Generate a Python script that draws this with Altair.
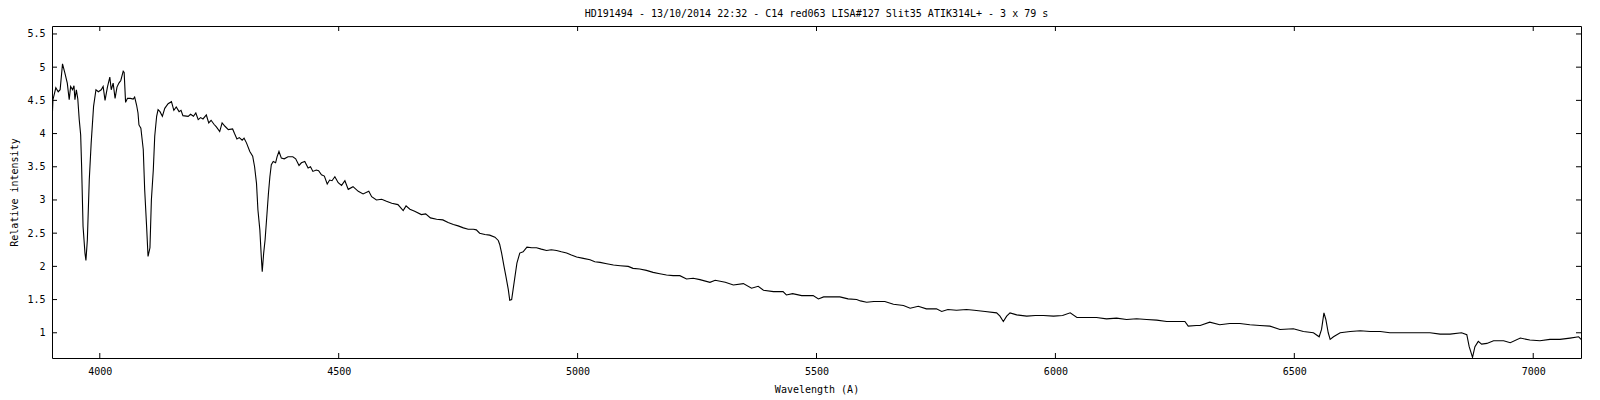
import altair as alt
import pandas as pd

wavelength = [
    3901, 3902, 3908, 3913, 3917, 3922, 3927, 3932, 3936, 3939, 3943, 3946, 3948, 3951, 3954,
    3957, 3960, 3962, 3965, 3969, 3971, 3974, 3978, 3982, 3987, 3992, 3997, 4003, 4007, 4011,
    4016, 4021, 4024, 4028, 4032, 4036, 4040, 4044, 4049, 4051, 4054, 4058, 4064, 4070, 4073,
    4077, 4080, 4082, 4086, 4091, 4094, 4098, 4101, 4105, 4108, 4112, 4115, 4119, 4122, 4126,
    4131, 4136, 4143, 4150, 4155, 4160, 4166, 4170, 4174, 4185, 4190, 4196, 4201, 4206, 4211,
    4216, 4223, 4228, 4233, 4239, 4244, 4251, 4256, 4262, 4269, 4278, 4282, 4287, 4292, 4298,
    4302, 4307, 4314, 4320, 4324, 4328, 4331, 4335, 4338, 4340, 4343, 4346, 4350, 4353, 4356,
    4359, 4363, 4368, 4371, 4375, 4380, 4386, 4394, 4404, 4410, 4417, 4422, 4429, 4436, 4441,
    4446, 4453, 4458, 4464, 4470, 4476, 4481, 4486, 4492, 4499, 4506, 4513, 4520, 4530, 4541,
    4551, 4563, 4569, 4579, 4590, 4600, 4611, 4624, 4635, 4641, 4649, 4659, 4673, 4682, 4692,
    4705, 4718, 4729, 4740, 4750, 4761, 4771, 4782, 4788, 4795, 4806, 4816, 4827, 4834, 4837,
    4841, 4846, 4850, 4855, 4858, 4862, 4865, 4869, 4873, 4879, 4886, 4894, 4904, 4914, 4924,
    4935, 4945, 4956, 4966, 4977, 4987, 4998, 5012, 5026, 5036, 5047, 5061, 5075, 5089, 5106,
    5116, 5130, 5144, 5158, 5172, 5186, 5200, 5214, 5228, 5242, 5256, 5277, 5288, 5309, 5326,
    5347, 5364, 5378, 5389, 5410, 5430, 5437, 5450, 5469, 5493, 5504, 5515, 5528, 5549, 5566,
    5584, 5592, 5605, 5620, 5643, 5661, 5682, 5696, 5713, 5730, 5751, 5762, 5775, 5793, 5814,
    5830, 5853, 5877, 5884, 5891, 5898, 5905, 5919, 5940, 5958, 5975, 5996, 6015, 6031, 6045,
    6066, 6086, 6107, 6128, 6149, 6170, 6191, 6212, 6233, 6255, 6271, 6278, 6295, 6303, 6323,
    6344, 6365, 6386, 6407, 6428, 6449, 6470, 6498, 6519, 6540, 6552, 6557, 6562, 6566, 6571,
    6575, 6582, 6596, 6617, 6638, 6659, 6680, 6700, 6721, 6742, 6763, 6784, 6805, 6826, 6850,
    6861, 6866, 6873, 6878, 6885, 6892, 6903, 6917, 6938, 6952, 6973, 6993, 7014, 7035, 7056,
    7077, 7095, 7100,
]

intensity = [
    4.33, 4.51, 4.69, 4.63, 4.66, 5.05, 4.91, 4.76, 4.51, 4.71, 4.66, 4.72, 4.51, 4.66, 4.52,
    4.21, 3.98, 3.50, 2.60, 2.20, 2.09, 2.40, 3.30, 3.86, 4.41, 4.66, 4.63, 4.66, 4.71, 4.50,
    4.70, 4.85, 4.66, 4.76, 4.53, 4.70, 4.76, 4.80, 4.94, 4.92, 4.47, 4.53, 4.53, 4.52, 4.55,
    4.43, 4.31, 4.13, 4.08, 3.76, 3.15, 2.60, 2.15, 2.28, 3.00, 3.45, 3.96, 4.26, 4.36, 4.33,
    4.26, 4.38, 4.45, 4.48, 4.35, 4.40, 4.33, 4.35, 4.27, 4.26, 4.29, 4.26, 4.31, 4.21, 4.24,
    4.22, 4.28, 4.16, 4.20, 4.14, 4.10, 4.03, 4.16, 4.11, 4.06, 4.07, 4.00, 3.92, 3.94, 3.90,
    3.93, 3.86, 3.73, 3.66, 3.50, 3.25, 2.85, 2.55, 2.15, 1.92, 2.20, 2.40, 2.80, 3.10, 3.35,
    3.53, 3.58, 3.56, 3.65, 3.73, 3.63, 3.62, 3.65, 3.65, 3.62, 3.52, 3.56, 3.58, 3.48, 3.50,
    3.43, 3.45, 3.44, 3.38, 3.36, 3.24, 3.30, 3.29, 3.35, 3.26, 3.22, 3.29, 3.16, 3.20, 3.13,
    3.09, 3.13, 3.05, 3.00, 3.01, 2.98, 2.95, 2.93, 2.84, 2.91, 2.86, 2.83, 2.78, 2.79, 2.73,
    2.71, 2.70, 2.66, 2.63, 2.61, 2.58, 2.56, 2.56, 2.55, 2.50, 2.48, 2.47, 2.44, 2.39, 2.33,
    2.20, 2.00, 1.85, 1.65, 1.49, 1.50, 1.65, 1.85, 2.05, 2.20, 2.22, 2.29, 2.28, 2.28, 2.26,
    2.24, 2.25, 2.24, 2.22, 2.20, 2.17, 2.14, 2.12, 2.10, 2.07, 2.06, 2.04, 2.02, 2.01, 2.00,
    1.97, 1.96, 1.94, 1.91, 1.89, 1.87, 1.86, 1.86, 1.81, 1.82, 1.80, 1.76, 1.79, 1.76, 1.72,
    1.74, 1.67, 1.70, 1.64, 1.62, 1.62, 1.57, 1.59, 1.56, 1.56, 1.51, 1.54, 1.54, 1.54, 1.51,
    1.50, 1.48, 1.46, 1.47, 1.47, 1.43, 1.41, 1.37, 1.40, 1.36, 1.36, 1.32, 1.35, 1.34, 1.35,
    1.34, 1.32, 1.30, 1.25, 1.17, 1.25, 1.30, 1.27, 1.25, 1.26, 1.26, 1.25, 1.26, 1.30, 1.23,
    1.23, 1.23, 1.21, 1.22, 1.20, 1.21, 1.20, 1.19, 1.17, 1.17, 1.17, 1.10, 1.11, 1.11, 1.16,
    1.12, 1.14, 1.14, 1.12, 1.11, 1.10, 1.05, 1.06, 1.02, 1.00, 0.94, 1.05, 1.30, 1.20, 1.00,
    0.90, 0.94, 1.00, 1.02, 1.03, 1.02, 1.02, 1.00, 1.00, 1.00, 1.00, 1.00, 0.98, 0.98, 1.00,
    0.97, 0.79, 0.63, 0.79, 0.87, 0.83, 0.84, 0.88, 0.88, 0.85, 0.92, 0.89, 0.88, 0.90, 0.90,
    0.92, 0.94, 0.90,
]

x_ticks = [4000, 4500, 5000, 5500, 6000, 6500, 7000]
y_ticks = [1, 1.5, 2, 2.5, 3, 3.5, 4, 4.5, 5, 5.5]

title_text = "HD191494 - 13/10/2014 22:32 - C14 red063 LISA#127 Slit35 ATIK314L+ - 3 x 79 s"
x_title = "Wavelength (A)"
y_title = "Relative intensity"

W, H = 1529, 332
FONT = "DejaVu Sans Mono"

spec = pd.DataFrame({"wl": wavelength, "val": intensity})
xt = pd.DataFrame({"v": x_ticks})
yt = pd.DataFrame({"v": y_ticks})

xscale = alt.Scale(domain=[3900, 7100], nice=False, zero=False)
yscale = alt.Scale(domain=[0.62, 5.62], nice=False, zero=False)

xaxis = alt.Axis(values=x_ticks, format="d", ticks=False, tickSize=0, domain=False,
                 grid=False, labelPadding=8, titlePadding=8,
                 labelFont=FONT, labelFontSize=10, labelColor="black",
                 titleFont=FONT, titleFontSize=10, titleFontWeight="normal", titleColor="black")
yaxis = alt.Axis(values=y_ticks, format="~g", ticks=False, tickSize=0, domain=False,
                 grid=False, labelPadding=7, titlePadding=7,
                 labelFont=FONT, labelFontSize=10, labelColor="black",
                 titleFont=FONT, titleFontSize=10, titleFontWeight="normal", titleColor="black")

line = alt.Chart(spec).mark_line(color="black", strokeWidth=1.1, clip=True).encode(
    x=alt.X("wl:Q", scale=xscale, title=x_title, axis=xaxis),
    y=alt.Y("val:Q", scale=yscale, title=y_title, axis=yaxis),
)

tick_len = 5
xb = alt.Chart(xt).mark_rule(color="black", strokeWidth=1).encode(
    x=alt.X("v:Q", scale=xscale, title=x_title, axis=xaxis),
    y=alt.value(H), y2=alt.value(H - tick_len))
xtop = alt.Chart(xt).mark_rule(color="black", strokeWidth=1).encode(
    x=alt.X("v:Q", scale=xscale, title=x_title, axis=xaxis),
    y=alt.value(0), y2=alt.value(tick_len))
yl = alt.Chart(yt).mark_rule(color="black", strokeWidth=1).encode(
    y=alt.Y("v:Q", scale=yscale, title=y_title, axis=yaxis),
    x=alt.value(0), x2=alt.value(tick_len))
yr = alt.Chart(yt).mark_rule(color="black", strokeWidth=1).encode(
    y=alt.Y("v:Q", scale=yscale, title=y_title, axis=yaxis),
    x=alt.value(W), x2=alt.value(W - tick_len))

chart = alt.layer(line, xb, xtop, yl, yr).properties(
    width=W, height=H,
    background="white",
    title=alt.TitleParams(title_text, anchor="middle", font=FONT, fontSize=10,
                          fontWeight="normal", color="black", offset=7),
    autosize=alt.AutoSizeParams(type="none"),
    padding={"left": 44, "top": 18, "right": 11, "bottom": 40},
).configure_view(stroke="black", strokeWidth=1)

chart.save("out.html", embed_options={"renderer": "svg", "actions": False})
